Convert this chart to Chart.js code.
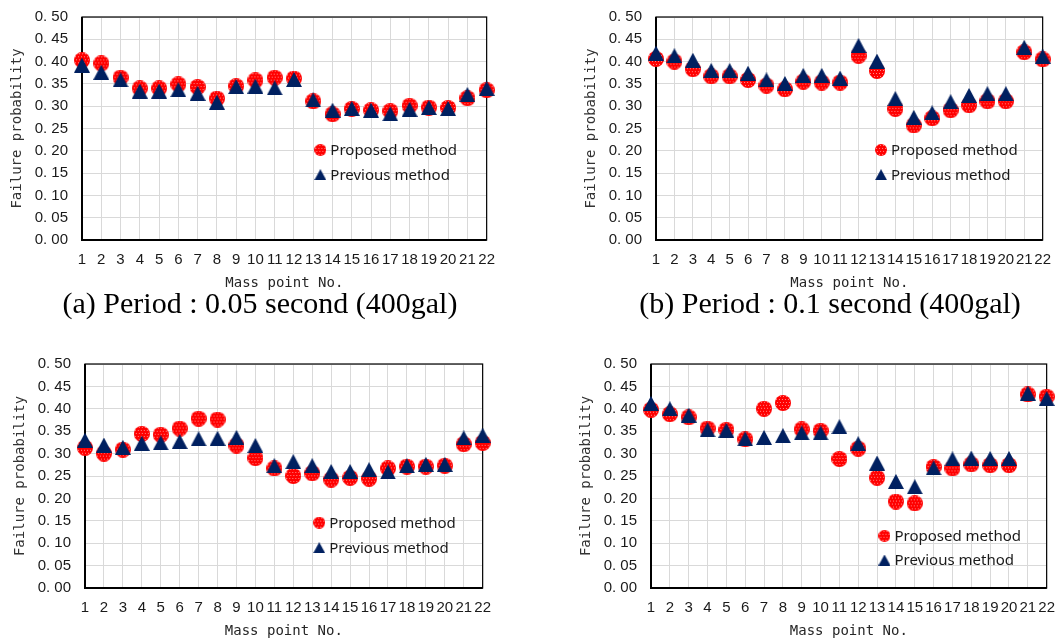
<!DOCTYPE html>
<html>
<head>
<meta charset="utf-8">
<script src="https://cdn.jsdelivr.net/npm/chart.js@4.4.1/dist/chart.umd.min.js"></script>
<style>
  html, body { margin: 0; padding: 0; background: #fff; overflow: hidden; }
  body { width: 1062px; height: 639px; position: relative; }
  .box { position: absolute; }
  .caption {
    position: absolute; font-family: "Liberation Serif", serif; font-size: 30px;
    color: #000; white-space: nowrap; transform: translate(-50%, -50%);
  }
</style>
</head>
<body>
<div class="box" style="left:0px;top:-6px;width:506px;height:298px"><canvas id="chartA"></canvas></div>
<div class="box" style="left:574px;top:-6px;width:488px;height:298px"><canvas id="chartB"></canvas></div>
<div class="box" style="left:3px;top:341px;width:499px;height:299px"><canvas id="chartC"></canvas></div>
<div class="box" style="left:569px;top:341px;width:497px;height:299px"><canvas id="chartD"></canvas></div>
<div class="caption" style="left:260px;top:303px">(a) Period : 0.05 second (400gal)</div>
<div class="caption" style="left:830px;top:303px">(b) Period : 0.1 second (400gal)</div>
<script>
// data
const massPoints = [1, 2, 3, 4, 5, 6, 7, 8, 9, 10, 11, 12, 13, 14, 15, 16, 17, 18, 19, 20, 21, 22];
const seriesNames = ['Proposed method', 'Previous method'];
const xTitle = 'Mass point No.';
const yTitle = 'Failure probability';

const proposedA = [0.403, 0.396, 0.364, 0.340, 0.340, 0.349, 0.343, 0.317, 0.345, 0.358, 0.364, 0.362, 0.311, 0.282, 0.294, 0.291, 0.289, 0.301, 0.297, 0.296, 0.318, 0.336];
const previousA = [0.392, 0.376, 0.359, 0.334, 0.334, 0.337, 0.329, 0.309, 0.344, 0.345, 0.341, 0.360, 0.314, 0.291, 0.295, 0.291, 0.283, 0.293, 0.297, 0.295, 0.326, 0.340];

const proposedB = [0.406, 0.400, 0.383, 0.367, 0.367, 0.359, 0.346, 0.338, 0.355, 0.353, 0.353, 0.413, 0.379, 0.294, 0.257, 0.273, 0.291, 0.302, 0.311, 0.311, 0.421, 0.405];
const previousB = [0.419, 0.413, 0.403, 0.380, 0.380, 0.374, 0.359, 0.351, 0.369, 0.369, 0.363, 0.436, 0.401, 0.317, 0.275, 0.285, 0.310, 0.324, 0.328, 0.328, 0.432, 0.412];

const proposedC = [0.313, 0.300, 0.309, 0.344, 0.342, 0.356, 0.378, 0.376, 0.318, 0.290, 0.267, 0.250, 0.256, 0.242, 0.246, 0.244, 0.267, 0.271, 0.271, 0.273, 0.321, 0.324];
const previousC = [0.330, 0.319, 0.314, 0.323, 0.324, 0.327, 0.333, 0.334, 0.336, 0.318, 0.273, 0.282, 0.273, 0.260, 0.260, 0.264, 0.259, 0.273, 0.276, 0.276, 0.335, 0.341];

const proposedD = [0.398, 0.388, 0.381, 0.356, 0.353, 0.332, 0.400, 0.413, 0.354, 0.351, 0.288, 0.311, 0.246, 0.193, 0.189, 0.270, 0.267, 0.276, 0.274, 0.274, 0.432, 0.427];
const previousD = [0.412, 0.400, 0.386, 0.353, 0.352, 0.333, 0.336, 0.340, 0.346, 0.346, 0.360, 0.322, 0.279, 0.238, 0.226, 0.268, 0.288, 0.290, 0.289, 0.289, 0.435, 0.423];

const RED = '#ff0000';
const NAVY = '#002060';

// excel-like markers as small canvases
function circleMarker(d) {
    const c = document.createElement('canvas');
    c.width = d; c.height = d;
    const g = c.getContext('2d');
    g.beginPath();
    g.arc(d / 2, d / 2, d / 2, 0, Math.PI * 2);
    g.fillStyle = RED;
    g.fill();
    g.save();
    g.clip();
    g.fillStyle = 'rgba(255,170,170,0.8)';
    for (let y = 1; y < d; y += 3) {
        for (let x = (y % 2) + 1; x < d; x += 3) g.fillRect(x, y, 1, 1);
    }
    g.restore();
    return c;
}

function triangleMarker(w, h) {
    const c = document.createElement('canvas');
    c.width = w; c.height = h;
    const g = c.getContext('2d');
    g.beginPath();
    g.moveTo(w / 2, 0);
    g.lineTo(w, h);
    g.lineTo(0, h);
    g.closePath();
    g.fillStyle = NAVY;
    g.fill();
    return c;
}

const circleBig = circleMarker(16);
const triBig = triangleMarker(16, 15);
const circleSmall = circleMarker(12);
const triSmall = triangleMarker(12, 11);

const framePlugin = {
    id: 'frame',
    beforeDatasetsDraw(chart) {
        const {ctx, chartArea: a} = chart;
        ctx.save();
        ctx.strokeStyle = '#000';
        ctx.lineWidth = 1.2;
        ctx.strokeRect(a.left, a.top, a.right - a.left, a.bottom - a.top);
        ctx.lineWidth = 2;
        ctx.beginPath();
        ctx.moveTo(a.left, a.top);
        ctx.lineTo(a.left, a.bottom);
        ctx.lineTo(a.right, a.bottom);
        ctx.stroke();
        ctx.restore();
    }
};

const boxLegend = {
    id: 'boxLegend',
    afterDraw(chart, args, opts) {
        const {ctx, chartArea: a} = chart;
        const x = a.left + (a.right - a.left) * opts.x;
        const ys = opts.y.map(f => a.top + (a.bottom - a.top) * f);
        const marks = [circleSmall, triSmall];
        ctx.save();
        ctx.font = '15px "Noto Sans", sans-serif';
        ctx.fillStyle = '#1a1a1a';
        ctx.textBaseline = 'middle';
        seriesNames.forEach((name, i) => {
            const m = marks[i];
            ctx.drawImage(m, x - m.width / 2, ys[i] - m.height / 2);
            ctx.fillText(name, x + 10, ys[i] + 1);
        });
        ctx.restore();
    }
};

function makeChart(id, proposed, previous, opt) {
    const ctx = document.getElementById(id).getContext('2d');
    return new Chart(ctx, {
        type: 'scatter',
        data: {
            datasets: [
                {
                    label: seriesNames[0],
                    data: massPoints.map((m, i) => ({x: m, y: proposed[i]})),
                    pointStyle: circleBig,
                    order: 2,
                    clip: false
                },
                {
                    label: seriesNames[1],
                    data: massPoints.map((m, i) => ({x: m, y: previous[i]})),
                    pointStyle: triBig,
                    order: 1,
                    clip: false
                }
            ]
        },
        options: {
            responsive: true,
            maintainAspectRatio: false,
            animation: false,
            events: [],
            layout: {
                padding: {top: 20, right: opt.right, bottom: 0, left: 0}
            },
            plugins: {
                legend: {display: false},
                tooltip: {enabled: false},
                boxLegend: {x: opt.legX, y: opt.legY}
            },
            scales: {
                x: {
                    type: 'linear',
                    min: 1,
                    max: 22,
                    afterFit: s => { s.height = 52; },
                    grid: {color: '#d9d9d9', drawTicks: false},
                    border: {display: false},
                    ticks: {
                        stepSize: 1,
                        padding: 11,
                        autoSkip: false,
                        maxRotation: 0,
                        color: '#1a1a1a',
                        font: {family: '"Liberation Sans", sans-serif', size: 15}
                    },
                    title: {
                        display: true,
                        text: xTitle,
                        color: '#262626',
                        padding: {top: 0, bottom: 0},
                        font: {family: '"DejaVu Sans Mono", monospace', size: 14}
                    }
                },
                y: {
                    min: 0,
                    max: 0.5,
                    afterFit: s => { s.width = 82; },
                    grid: {color: '#d9d9d9', drawTicks: false},
                    border: {display: false},
                    ticks: {
                        stepSize: 0.05,
                        padding: 14,
                        color: '#1a1a1a',
                        font: {family: '"Liberation Sans", sans-serif', size: 15},
                        callback: v => v.toFixed(2).replace('.', '. ')
                    },
                    title: {
                        display: true,
                        text: yTitle,
                        color: '#333',
                        padding: {top: 9, bottom: 0},
                        font: {family: '"DejaVu Sans Mono", monospace', size: 14}
                    }
                }
            }
        },
        plugins: [framePlugin, boxLegend]
    });
}

makeChart('chartA', proposedA, previousA, {right: 15, legX: 0.589, legY: [0.596, 0.707]});
makeChart('chartB', proposedB, previousB, {right: 12, legX: 0.582, legY: [0.596, 0.707]});
makeChart('chartC', proposedC, previousC, {right: 15, legX: 0.589, legY: [0.708, 0.82]});
makeChart('chartD', proposedD, previousD, {right: 12, legX: 0.59, legY: [0.767, 0.875]});
</script>
</body>
</html>
